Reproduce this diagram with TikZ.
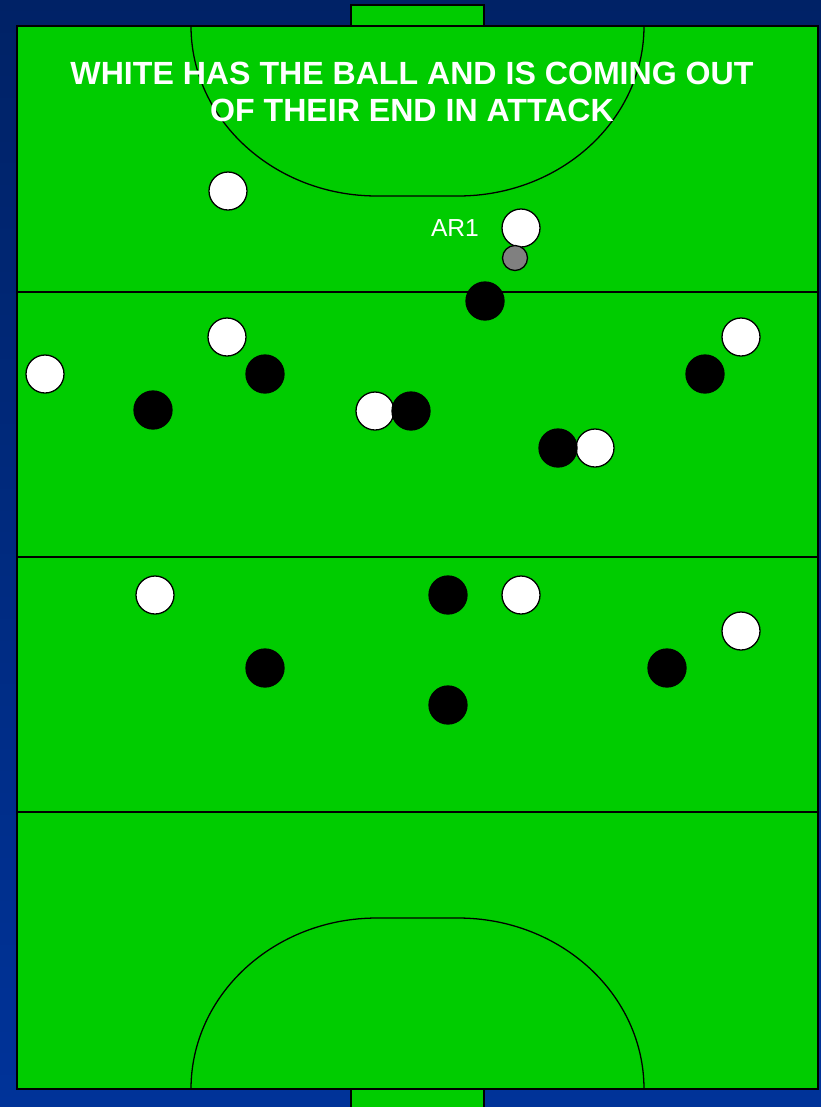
\documentclass[tikz,border=0pt]{standalone}
\usepackage{fontspec}
\setmainfont{Liberation Sans}
\definecolor{pitch}{RGB}{0,204,0}
\definecolor{navytop}{RGB}{0,34,102}
\definecolor{navybot}{RGB}{0,51,153}
\definecolor{ballgray}{RGB}{128,128,128}
\begin{document}
\begin{tikzpicture}[x=0.03cm, y=-0.03cm,
    whiteplayer/.style={circle, draw=black, fill=white, line width=1.1pt, minimum size=1.14cm, inner sep=0pt},
    blackplayer/.style={circle, draw=black, fill=black, line width=1.1pt, minimum size=1.14cm, inner sep=0pt},
    ballstyle/.style={circle, draw=black, fill=ballgray, line width=1.1pt, minimum size=0.75cm, inner sep=0pt},
    pitchline/.style={line width=1.1pt}]

  % Background
  \shade[top color=navytop, bottom color=navybot] (0,0) rectangle (821,1107);
  \useasboundingbox (0,0) rectangle (821,1107);

  % Field and goals
  \fill[pitch] (17,26) rectangle (818,1089);
  \draw[pitchline, fill=pitch] (351,5) rectangle (484,26);
  \draw[pitchline, fill=pitch] (351,1089) rectangle (484,1110);
  \draw[pitchline] (17,26) rectangle (818,1089);

  % Quarter lines
  \draw[pitchline] (17,292) -- (818,292);
  \draw[pitchline] (17,557) -- (818,557);
  \draw[pitchline] (17,812) -- (818,812);

  % Shooting circles
  \draw[pitchline] (191,26) arc[start angle=180, end angle=90, x radius=186, y radius=170]
    -- (458,196) arc[start angle=90, end angle=0, x radius=186, y radius=170];
  \draw[pitchline] (191,1089) arc[start angle=180, end angle=270, x radius=186, y radius=171]
    -- (458,918) arc[start angle=270, end angle=360, x radius=186, y radius=171];

  % Title
  \node[text=white, font=\bfseries\fontsize{27.4}{31.6}\selectfont, align=center] (title) at (412,92)
    {WHITE HAS THE BALL AND IS COMING OUT\\OF THEIR END IN ATTACK};

  % Players
  \foreach \px/\py [count=\i] in {228/191, 521/228, 227/337, 45/374, 741/337,
      375/411, 595/448, 155/595, 521/595, 741/631}
    \node[whiteplayer] (w\i) at (\px,\py) {};
  \foreach \px/\py [count=\i] in {485/301, 265/374, 153/410, 411/411, 705/374,
      558/448, 448/595, 265/668, 667/668, 448/705}
    \node[blackplayer] (b\i) at (\px,\py) {};

  % Ball and label
  \node[ballstyle] (ball) at (515,258) {};
  \node[text=white, font=\fontsize{21}{24}\selectfont] (ar1) at (455,228) {AR1};

\end{tikzpicture}
\end{document}
